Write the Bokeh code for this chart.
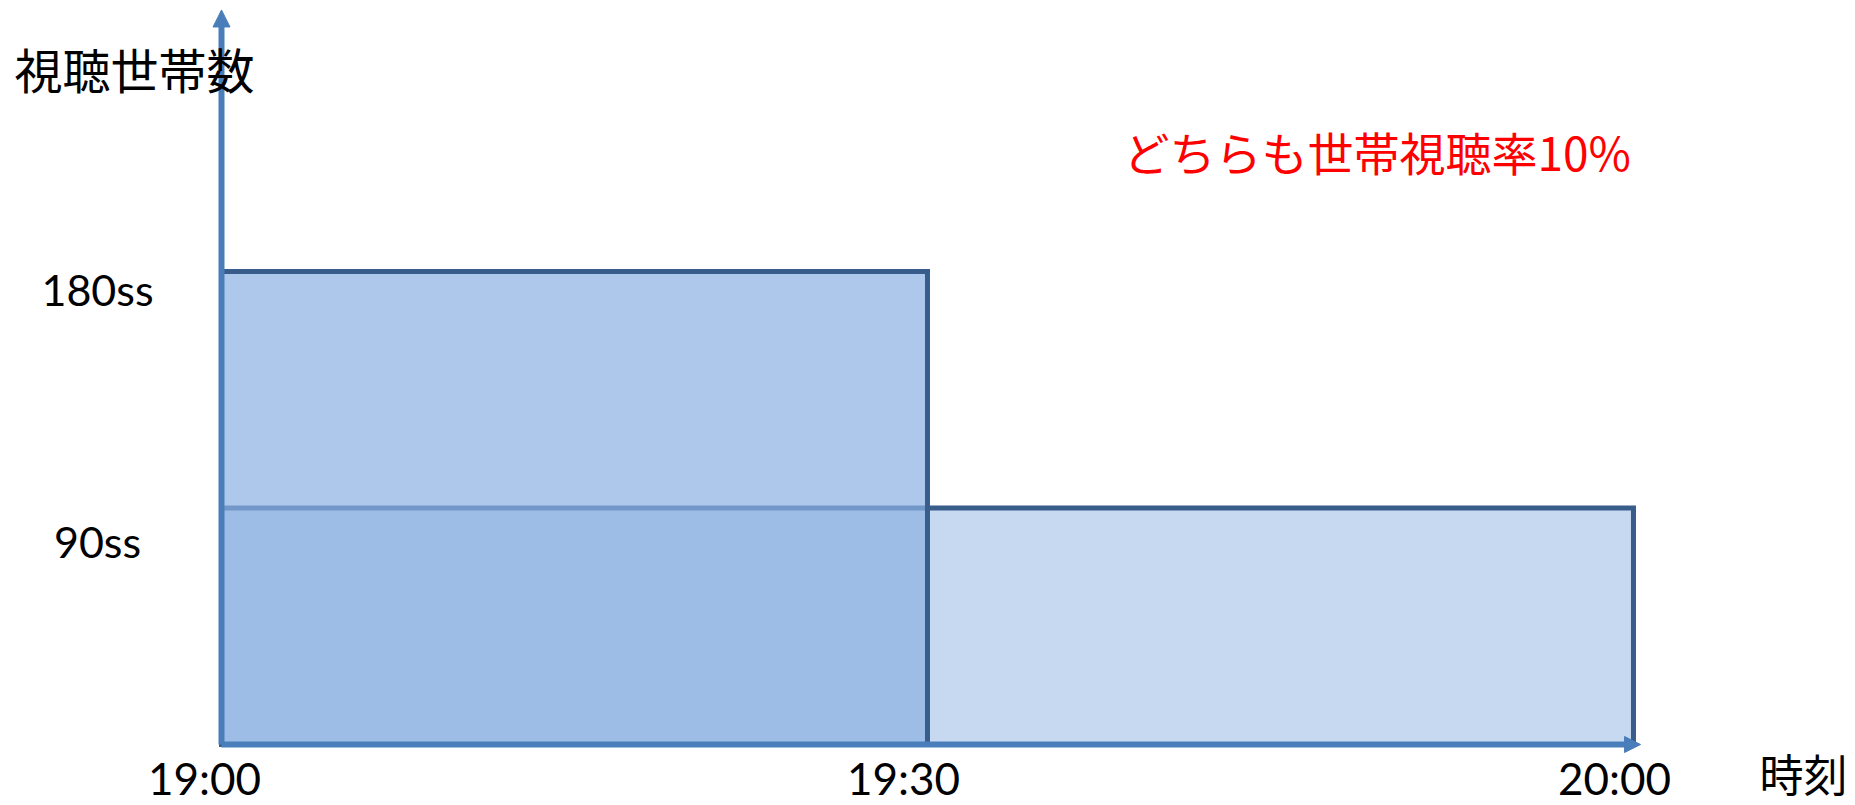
from bokeh.plotting import figure
from bokeh.models import Range1d, Arrow, NormalHead, Label, ColumnDataSource
from bokeh.core.properties import value
from bokeh.embed import file_html
from bokeh.resources import INLINE

# ---- data ----
program_names = ["A (30分)", "B (60分)"]
program_start = [0, 0]          # minutes after 19:00
program_end = [30, 60]          # minutes after 19:00
program_households = [180, 90]  # viewing households (ss)

x_tick_values = [0, 30, 60]
x_tick_labels = ["19:00", "19:30", "20:00"]
y_tick_values = [90, 180]
y_tick_labels = ["90ss", "180ss"]

y_title = "視聴世帯数"
x_title = "時刻"
note_text = "どちらも世帯視聴率10%"

# ---- layout ----
W, H = 1855, 805
PX0, PXK = 221.0, 23.533      # screen x of minute 0, px per minute
PY0, PYK = 744.0, 2.628       # screen y (from top) of 0, px per household
x_range = Range1d(-PX0 / PXK, (W - PX0) / PXK)
y_range = Range1d(-(H - PY0) / PYK, PY0 / PYK)

p = figure(width=W, height=H, x_range=x_range, y_range=y_range,
           output_backend="svg", toolbar_location=None,
           x_axis_location=None, y_axis_location=None,
           min_border=0, outline_line_color=None, background_fill_color="white")
p.grid.visible = False

axis_color = "#4A7EBB"
edge_color = "#385D8A"

# axes as arrows
x_axis_end = 60.3
y_axis_end = 279.5
p.add_layout(Arrow(x_start=0, y_start=0, x_end=x_axis_end, y_end=0,
                   line_color=axis_color, line_width=6,
                   end=NormalHead(size=16, fill_color=axis_color, line_color=axis_color, line_width=1)))
p.add_layout(Arrow(x_start=0, y_start=0, x_end=0, y_end=y_axis_end,
                   line_color=axis_color, line_width=6,
                   end=NormalHead(size=17, fill_color=axis_color, line_color=axis_color, line_width=1)))

# program B (60 min, 90ss) first, then A (30 min, 180ss) semi-transparent on top
p.quad(left=[program_start[1]], right=[program_end[1]], bottom=[0], top=[program_households[1]],
       fill_color="#C6D9F1", fill_alpha=1.0, line_color=edge_color, line_width=5, line_join="miter")
p.quad(left=[program_start[0]], right=[program_end[0]], bottom=[0], top=[program_households[0]],
       fill_color="#8CB0E2", fill_alpha=0.7, line_color=edge_color, line_width=5, line_join="miter")

# tick labels
xsrc = ColumnDataSource(dict(x=x_tick_values, y=[0] * len(x_tick_values), t=x_tick_labels,
                             dx=[-17, -24, -19]))
p.text(x="x", y="y", text="t", x_offset="dx", y_offset=33, source=xsrc,
       text_font=value("Lato"), text_font_size="44px", text_color="black",
       text_align="center", text_baseline="middle")

ysrc = ColumnDataSource(dict(x=[0] * len(y_tick_values), y=y_tick_values, t=y_tick_labels,
                             dy=[34, 18]))
p.text(x="x", y="y", text="t", x_offset=-124, y_offset="dy", source=ysrc,
       text_font=value("Lato"), text_font_size="43px", text_color="black",
       text_align="center", text_baseline="middle")

# titles
p.add_layout(Label(x=14, y=H - 67, x_units="screen", y_units="screen", text=y_title,
                   text_font="Noto Sans CJK JP", text_font_size="48px", text_color="black",
                   text_align="left", text_baseline="middle"))
p.add_layout(Label(x=1759, y=H - 772, x_units="screen", y_units="screen", text=x_title,
                   text_font="Noto Sans CJK JP", text_font_size="44px", text_color="black",
                   text_align="left", text_baseline="middle"))
p.add_layout(Label(x=1123, y=H - 150, x_units="screen", y_units="screen", text=note_text,
                   text_font="Noto Sans CJK JP", text_font_size="46px", text_color="#FF0000",
                   text_align="left", text_baseline="middle"))

open("out.html", "w").write(file_html(p, INLINE))
